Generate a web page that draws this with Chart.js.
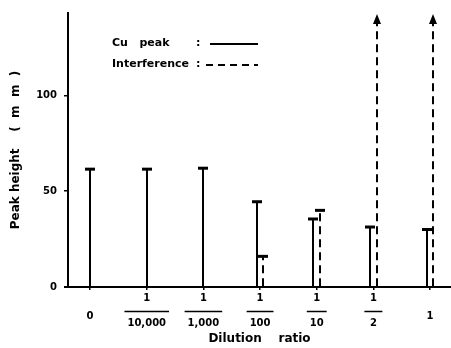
<!DOCTYPE html>
<html>
<head>
<meta charset="utf-8">
<script src="https://cdn.jsdelivr.net/npm/chart.js@4.4.1/dist/chart.umd.min.js"></script>
<style>
html, body { margin: 0; background: #fff; }
#wrap { width: 451px; height: 348px; }
</style>
</head>
<body>
<div id="wrap"><canvas id="myChart"></canvas></div>
<script>
// dilution ratios, fractions as [numerator, denominator]
const ratios = [["0"], ["1", "10,000"], ["1", "1,000"], ["1", "100"], ["1", "10"], ["1", "2"], ["1"]];
const cuPeak = [61.5, 61.5, 62, 44.5, 35.5, 31.3, 30];
const interference = [null, null, null, 16, 40, 142.5, 142.5];
const offScale = [false, false, false, false, false, true, true];
const yTicks = [0, 50, 100];

const tickFont = { family: "DejaVu Sans", weight: "bold", size: 10 };
const titleFont = { family: "DejaVu Sans", weight: "bold", size: 12 };

const sticks = {
    id: "sticks",
    afterDatasetsDraw(chart) {
        const ctx = chart.ctx;
        chart.data.datasets.forEach((ds, di) => {
            const meta = chart.getDatasetMeta(di);
            meta.data.forEach((el, i) => {
                const v = ds.data[i].y;
                if (v === null) return;
                const x = Math.round(el.x);
                const top = el.y, base = el.base;
                ctx.save();
                ctx.strokeStyle = "#000";
                ctx.fillStyle = "#000";
                ctx.lineWidth = 2;
                ctx.setLineDash(ds.dashed ? [8, 5] : []);
                ctx.beginPath();
                ctx.moveTo(x, base);
                ctx.lineTo(x, top);
                ctx.stroke();
                ctx.setLineDash([]);
                if (ds.dashed && offScale[i]) {
                    ctx.beginPath();
                    ctx.moveTo(x, top);
                    ctx.lineTo(x - 4, top + 10);
                    ctx.lineTo(x + 4, top + 10);
                    ctx.closePath();
                    ctx.fill();
                } else {
                    ctx.lineWidth = 3;
                    ctx.beginPath();
                    ctx.moveTo(x - 5, top);
                    ctx.lineTo(x + 5, top);
                    ctx.stroke();
                }
                ctx.restore();
            });
        });
    },
    afterDraw(chart) {
        const ctx = chart.ctx;
        const xs = chart.scales.x;
        ctx.save();
        ctx.strokeStyle = "#000";
        ctx.fillStyle = "#000";
        // fraction bars on the blank middle line
        ctx.lineWidth = 1.5;
        ctx.font = "bold 10px 'DejaVu Sans'";
        xs.getLabelItems().forEach((item, i) => {
            const lab = ratios[i];
            if (lab.length < 2) return;
            const [tx, ty] = item.options.translation;
            const lh = item.font.lineHeight;
            const y = ty + item.textOffset + lh + 1;
            const w = Math.max(ctx.measureText(lab[1]).width + 6, 18);
            ctx.beginPath();
            ctx.moveTo(tx - w / 2, y);
            ctx.lineTo(tx + w / 2, y);
            ctx.stroke();
        });
        // x axis runs a little left of the y axis
        ctx.lineWidth = 2;
        ctx.beginPath();
        ctx.moveTo(chart.chartArea.left - 4, chart.chartArea.bottom);
        ctx.lineTo(chart.chartArea.left, chart.chartArea.bottom);
        ctx.stroke();
        // legend
        const ds = chart.data.datasets;
        ctx.font = "bold 11px 'DejaVu Sans'";
        ctx.textBaseline = "middle";
        const rows = [43, 64];
        ds.forEach((d, k) => {
            const y = rows[k];
            ctx.fillText(d.label, 112, y);
            ctx.fillText(":", 196, y);
            ctx.lineWidth = 2;
            ctx.setLineDash(d.dashed ? [7, 5] : []);
            ctx.beginPath();
            ctx.moveTo(d.dashed ? 206 : 210, y + 1);
            ctx.lineTo(258, y + 1);
            ctx.stroke();
        });
        ctx.restore();
    }
};

const ctx = document.getElementById("myChart").getContext("2d");
new Chart(ctx, {
    type: "bar",
    data: {
        datasets: [{
            label: "Cu   peak",
            data: cuPeak.map((v, i) => ({ x: i, y: v })),
            dashed: false,
            backgroundColor: "rgba(0,0,0,0)",
            borderWidth: 0,
        }, {
            label: "Interference",
            data: interference.map((v, i) => ({ x: i, y: v })),
            dashed: true,
            backgroundColor: "rgba(0,0,0,0)",
            borderWidth: 0,
        }]
    },
    options: {
        responsive: true,
        maintainAspectRatio: false,
        animation: false,
        events: [],
        layout: { padding: { top: 6, left: 0, right: 0, bottom: 0 } },
        datasets: { bar: { skipNull: true, barThickness: 6.5 } },
        plugins: { legend: { display: false }, tooltip: { enabled: false } },
        scales: {
            x: {
                type: "linear",
                offset: false,
                min: -0.39,
                max: 6.37,
                afterFit(s) { s.height = 61; },
                afterBuildTicks(s) { s.ticks = ratios.map((r, i) => ({ value: i })); },
                grid: { offset: false, drawOnChartArea: false, drawTicks: true, tickLength: 3, tickColor: "#000", lineWidth: 1.5 },
                border: { display: true, color: "#000", width: 2 },
                ticks: {
                    autoSkip: false,
                    maxRotation: 0,
                    crossAlign: "center",
                    padding: 8,
                    color: "#000",
                    font: Object.assign({ lineHeight: "12.5px" }, tickFont),
                    // fractions get a blank middle line for the bar
                    callback: (v) => ratios[v].length === 2 ? [ratios[v][0], "", ratios[v][1]] : ["", ratios[v][0]],
                },
                title: {
                    display: true,
                    text: "Dilution    ratio",
                    color: "#000",
                    font: titleFont,
                    padding: { top: 0, bottom: 2 },
                },
            },
            y: {
                min: 0,
                max: 143,
                afterFit(s) { s.width = 68; },
                afterBuildTicks(s) { s.ticks = yTicks.map(v => ({ value: v })); },
                grid: { drawOnChartArea: false, drawTicks: true, tickLength: 4, tickColor: "#000", lineWidth: 1.5 },
                border: { display: true, color: "#000", width: 2 },
                ticks: { color: "#000", padding: 7, font: tickFont },
                title: {
                    display: true,
                    text: "Peak height    (  m  m  )",
                    color: "#000",
                    font: titleFont,
                    padding: { top: 9, bottom: 0 },
                },
            }
        }
    },
    plugins: [sticks]
});
</script>
</body>
</html>
